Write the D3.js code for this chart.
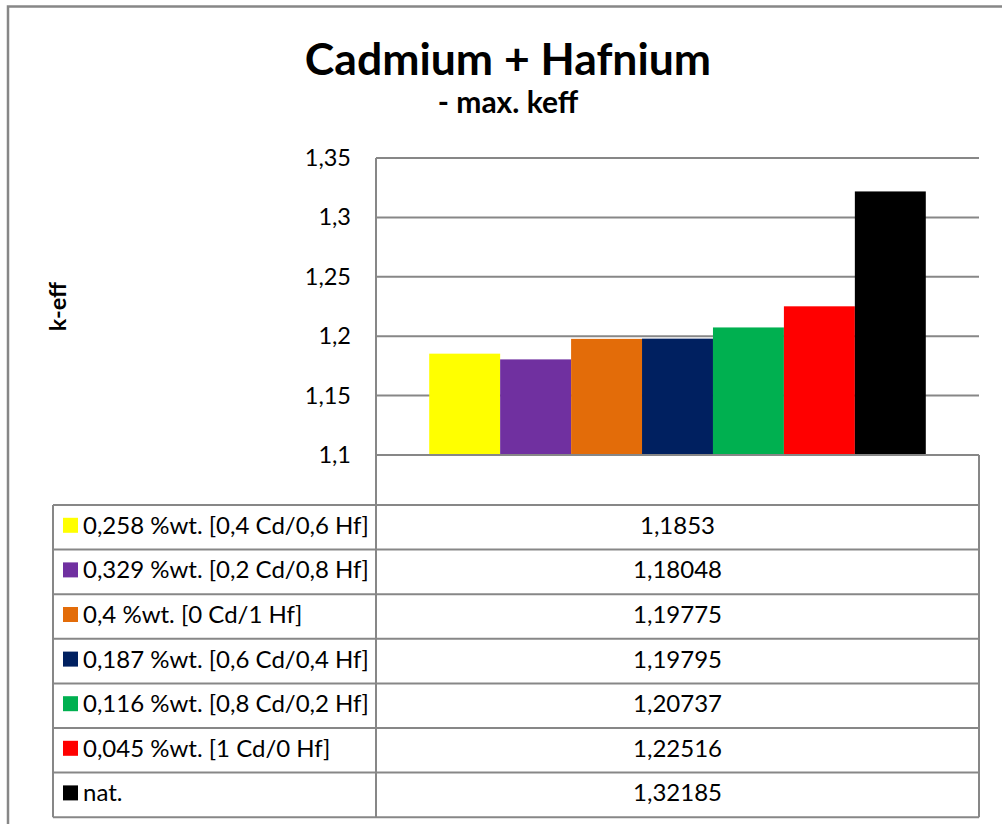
<!DOCTYPE html>
<html>
<head>
<meta charset="utf-8">
<script src="https://cdn.jsdelivr.net/npm/d3@7/dist/d3.min.js"></script>
<style>
  html, body { margin: 0; padding: 0; background: #fff; }
  svg { display: block; }
  text { font-family: Lato, "Open Sans", sans-serif; fill: #000; }
</style>
</head>
<body>
<div id="chart"></div>
<script>
// ---- data ----
const categories = [""];
const seriesNames = [
  "0,258 %wt. [0,4 Cd/0,6 Hf]",
  "0,329 %wt. [0,2 Cd/0,8 Hf]",
  "0,4 %wt. [0 Cd/1 Hf]",
  "0,187 %wt. [0,6 Cd/0,4 Hf]",
  "0,116 %wt. [0,8 Cd/0,2 Hf]",
  "0,045 %wt. [1 Cd/0 Hf]",
  "nat."
];
const seriesValues = [1.1853, 1.18048, 1.19775, 1.19795, 1.20737, 1.22516, 1.32185];
const seriesColors = ["#FFFF00", "#7030A0", "#E36C09", "#002060", "#00B050", "#FF0000", "#000000"];
const yTicks = [1.1, 1.15, 1.2, 1.25, 1.3, 1.35];
const titleText = "Cadmium + Hafnium";
const subtitleText = "- max. keff";
const yAxisTitle = "k-eff";

// ---- layout ----
const W = 1002, H = 824;
const plotL = 376, plotR = 979, plotT = 158, plotB = 455;
const tableL = 53, catRowB = 505, rowH = 44.6;
const lineColor = "#878787";
const fmt = v => String(v).replace(".", ",");

const svg = d3.select("#chart").append("svg").attr("width", W).attr("height", H);
svg.append("rect").attr("width", W).attr("height", H).attr("fill", "#fff");

// outer chart border (cropped on right / bottom)
svg.append("path")
  .attr("d", `M8,${H + 5} V6.5 H${W + 5}`)
  .attr("fill", "none").attr("stroke", lineColor).attr("stroke-width", 2.5);

// titles
svg.append("text").attr("x", 508).attr("y", 75).attr("text-anchor", "middle")
  .attr("font-size", 44.5).attr("font-weight", "bold").text(titleText);
svg.append("text").attr("x", 508).attr("y", 113).attr("text-anchor", "middle")
  .attr("font-size", 30).attr("font-weight", "bold").text(subtitleText);

// scales
const y = d3.scaleLinear().domain([1.1, 1.35]).range([plotB, plotT]);
const x0 = d3.scaleBand().domain(categories).range([plotL, plotR]).padding(0);
const gap = 1.5; // Excel gap width 150%
const bw = x0.bandwidth();
const x1 = d3.scaleBand().domain(d3.range(seriesNames.length))
  .range([bw * (gap / 2) / (seriesNames.length + gap), bw * (1 - (gap / 2) / (seriesNames.length + gap))])
  .padding(0);

// gridlines
svg.append("g")
  .selectAll("line").data(yTicks.filter(t => t > 1.1)).join("line")
  .attr("x1", plotL).attr("x2", plotR)
  .attr("y1", d => y(d)).attr("y2", d => y(d))
  .attr("stroke", lineColor).attr("stroke-width", 2);

// y axis labels
const yAxis = d3.axisLeft(y).tickValues(yTicks).tickSize(0).tickPadding(25).tickFormat(fmt);
const gy = svg.append("g").attr("transform", `translate(${plotL},0)`).call(yAxis);
gy.select(".domain").remove();
gy.selectAll("text").attr("font-size", 23.5).attr("font-family", "Lato, sans-serif").attr("fill", "#000");

// bars
const barData = seriesNames.map((n, i) => ({ name: n, value: seriesValues[i], color: seriesColors[i], i }));
svg.append("g").attr("transform", `translate(${x0(categories[0])},0)`)
  .selectAll("rect").data(barData).join("rect")
  .attr("x", d => x1(d.i)).attr("width", x1.bandwidth())
  .attr("y", d => y(d.value)).attr("height", d => y(1.1) - y(d.value))
  .attr("fill", d => d.color);

// y axis title
svg.append("text").attr("transform", `translate(66,${(plotT + plotB) / 2}) rotate(-90)`)
  .attr("text-anchor", "middle").attr("font-size", 23.5).attr("font-weight", "bold").text(yAxisTitle);

// ---- data table ----
const tableB = catRowB + rowH * seriesNames.length;
const g = svg.append("g").attr("stroke", lineColor).attr("stroke-width", 2).attr("fill", "none");
g.append("line").attr("x1", plotL).attr("x2", plotR).attr("y1", plotB).attr("y2", plotB);
g.append("line").attr("x1", plotL).attr("x2", plotL).attr("y1", plotT).attr("y2", tableB);
g.append("line").attr("x1", plotR).attr("x2", plotR).attr("y1", plotB).attr("y2", tableB);
g.append("line").attr("x1", tableL).attr("x2", tableL).attr("y1", catRowB).attr("y2", tableB);
g.selectAll("line.row").data(d3.range(seriesNames.length + 1)).join("line").attr("class", "row")
  .attr("x1", tableL).attr("x2", plotR)
  .attr("y1", i => catRowB + i * rowH).attr("y2", i => catRowB + i * rowH);

const rows = svg.append("g").selectAll("g").data(barData).join("g")
  .attr("transform", d => `translate(0,${catRowB + d.i * rowH})`);
rows.append("rect").attr("x", 63).attr("y", rowH / 2 - 9.5).attr("width", 15).attr("height", 15)
  .attr("fill", d => d.color);
rows.append("text").attr("x", 83).attr("y", rowH / 2 + 6.5).attr("font-size", 24).text(d => d.name);
rows.append("text").attr("x", (plotL + plotR) / 2).attr("y", rowH / 2 + 6.5).attr("text-anchor", "middle")
  .attr("font-size", 24).text(d => fmt(d.value));
</script>
</body>
</html>
